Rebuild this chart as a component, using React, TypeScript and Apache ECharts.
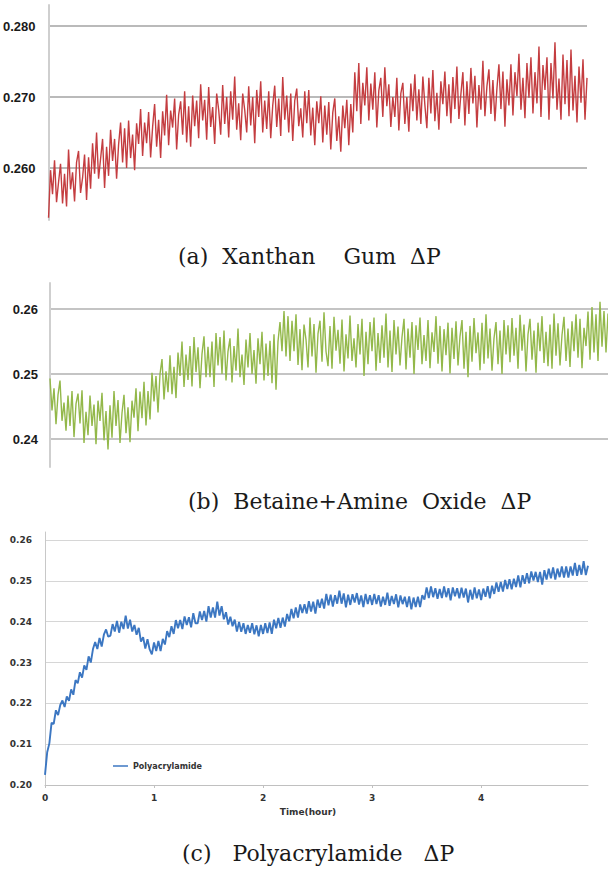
import React, { useEffect, useRef } from "react";
import * as echarts from "echarts";

// (a) Xanthan Gum ΔP – sampled trace, left to right
const xanthanDP = [
  0.2530, 0.2597, 0.2563, 0.2611, 0.2552, 0.2580, 0.2606, 0.2550, 0.2592, 0.2546,
  0.2626, 0.2570, 0.2594, 0.2553, 0.2608, 0.2624, 0.2565, 0.2586, 0.2619, 0.2555,
  0.2615, 0.2571, 0.2635, 0.2592, 0.2650, 0.2585, 0.2613, 0.2641, 0.2572, 0.2630,
  0.2589, 0.2654, 0.2610, 0.2641, 0.2585, 0.2633, 0.2664, 0.2608, 0.2656, 0.2600,
  0.2667, 0.2614, 0.2647, 0.2597, 0.2663, 0.2634, 0.2683, 0.2617, 0.2664, 0.2635,
  0.2679, 0.2615, 0.2658, 0.2690, 0.2630, 0.2668, 0.2614, 0.2680, 0.2646, 0.2703,
  0.2632, 0.2681, 0.2657, 0.2698, 0.2626, 0.2675, 0.2694, 0.2647, 0.2708, 0.2636,
  0.2687, 0.2630, 0.2702, 0.2659, 0.2695, 0.2642, 0.2718, 0.2667, 0.2696, 0.2640,
  0.2714, 0.2658, 0.2686, 0.2634, 0.2705, 0.2682, 0.2647, 0.2717, 0.2662, 0.2700,
  0.2643, 0.2708, 0.2668, 0.2729, 0.2654, 0.2691, 0.2639, 0.2705, 0.2682, 0.2650,
  0.2715, 0.2660, 0.2700, 0.2635, 0.2710, 0.2672, 0.2722, 0.2650, 0.2695, 0.2655,
  0.2708, 0.2642, 0.2688, 0.2716, 0.2658, 0.2698, 0.2645, 0.2728, 0.2668, 0.2702,
  0.2650, 0.2705, 0.2638, 0.2695, 0.2712, 0.2659, 0.2684, 0.2643, 0.2708, 0.2663,
  0.2710, 0.2646, 0.2685, 0.2632, 0.2694, 0.2663, 0.2701, 0.2636, 0.2688, 0.2647,
  0.2693, 0.2626, 0.2678, 0.2698, 0.2638, 0.2673, 0.2623, 0.2688, 0.2656, 0.2696,
  0.2632, 0.2690, 0.2650, 0.2735, 0.2680, 0.2748, 0.2662, 0.2720, 0.2688, 0.2742,
  0.2667, 0.2719, 0.2682, 0.2735, 0.2657, 0.2709, 0.2727, 0.2672, 0.2742, 0.2687,
  0.2718, 0.2658, 0.2700, 0.2672, 0.2727, 0.2653, 0.2705, 0.2720, 0.2662, 0.2700,
  0.2651, 0.2719, 0.2680, 0.2732, 0.2667, 0.2711, 0.2662, 0.2729, 0.2689, 0.2656,
  0.2727, 0.2677, 0.2738, 0.2666, 0.2706, 0.2654, 0.2722, 0.2690, 0.2736, 0.2673,
  0.2718, 0.2663, 0.2728, 0.2683, 0.2743, 0.2669, 0.2704, 0.2735, 0.2660, 0.2722,
  0.2676, 0.2741, 0.2691, 0.2730, 0.2657, 0.2717, 0.2682, 0.2751, 0.2673, 0.2715,
  0.2739, 0.2676, 0.2724, 0.2666, 0.2712, 0.2746, 0.2683, 0.2736, 0.2658, 0.2725,
  0.2688, 0.2746, 0.2674, 0.2735, 0.2701, 0.2761, 0.2682, 0.2727, 0.2670, 0.2748,
  0.2699, 0.2756, 0.2677, 0.2735, 0.2691, 0.2771, 0.2672, 0.2745, 0.2710, 0.2756,
  0.2668, 0.2748, 0.2698, 0.2777, 0.2682, 0.2726, 0.2668, 0.2760, 0.2690, 0.2752,
  0.2673, 0.2767, 0.2681, 0.2730, 0.2664, 0.2743, 0.2692, 0.2753, 0.2668, 0.2727,
];

// (b) Betaine+Amine Oxide ΔP – sampled trace, left to right
const betaineDP = [
  0.2493, 0.2444, 0.2478, 0.2423, 0.2468, 0.2490, 0.2428, 0.2456, 0.2413, 0.2467,
  0.2420, 0.2474, 0.2403, 0.2454, 0.2470, 0.2424, 0.2475, 0.2394, 0.2442, 0.2406,
  0.2467, 0.2420, 0.2453, 0.2392, 0.2459, 0.2428, 0.2471, 0.2398, 0.2443, 0.2384,
  0.2452, 0.2402, 0.2474, 0.2420, 0.2460, 0.2394, 0.2440, 0.2468, 0.2409, 0.2449,
  0.2395, 0.2459, 0.2433, 0.2478, 0.2412, 0.2473, 0.2432, 0.2488, 0.2421, 0.2474,
  0.2430, 0.2502, 0.2458, 0.2497, 0.2441, 0.2500, 0.2523, 0.2461, 0.2504, 0.2472,
  0.2529, 0.2469, 0.2511, 0.2463, 0.2533, 0.2497, 0.2550, 0.2480, 0.2530, 0.2491,
  0.2543, 0.2481, 0.2557, 0.2503, 0.2541, 0.2478, 0.2531, 0.2558, 0.2495, 0.2542,
  0.2495, 0.2550, 0.2480, 0.2563, 0.2513, 0.2557, 0.2500, 0.2567, 0.2490, 0.2535,
  0.2555, 0.2487, 0.2543, 0.2505, 0.2570, 0.2495, 0.2530, 0.2483, 0.2553, 0.2510,
  0.2563, 0.2500, 0.2537, 0.2485, 0.2555, 0.2515, 0.2565, 0.2490, 0.2547, 0.2497,
  0.2551, 0.2486, 0.2561, 0.2476, 0.2550, 0.2580, 0.2535, 0.2597, 0.2527, 0.2589,
  0.2520, 0.2582, 0.2535, 0.2592, 0.2514, 0.2569, 0.2506, 0.2576, 0.2553, 0.2510,
  0.2587, 0.2527, 0.2577, 0.2502, 0.2562, 0.2582, 0.2519, 0.2595, 0.2535, 0.2512,
  0.2574, 0.2508, 0.2588, 0.2536, 0.2568, 0.2516, 0.2584, 0.2504, 0.2561, 0.2524,
  0.2590, 0.2520, 0.2555, 0.2510, 0.2577, 0.2530, 0.2585, 0.2497, 0.2565, 0.2515,
  0.2580, 0.2535, 0.2587, 0.2505, 0.2563, 0.2517, 0.2575, 0.2525, 0.2593, 0.2510,
  0.2567, 0.2503, 0.2583, 0.2530, 0.2573, 0.2513, 0.2557, 0.2585, 0.2507, 0.2570,
  0.2525, 0.2580, 0.2500, 0.2575, 0.2537, 0.2587, 0.2515, 0.2560, 0.2520, 0.2583,
  0.2509, 0.2564, 0.2534, 0.2589, 0.2516, 0.2574, 0.2504, 0.2569, 0.2529, 0.2579,
  0.2501, 0.2571, 0.2523, 0.2581, 0.2513, 0.2558, 0.2583, 0.2508, 0.2565, 0.2495,
  0.2574, 0.2519, 0.2586, 0.2532, 0.2564, 0.2506, 0.2579, 0.2516, 0.2592, 0.2524,
  0.2570, 0.2505, 0.2555, 0.2580, 0.2515, 0.2567, 0.2500, 0.2583, 0.2530, 0.2575,
  0.2518, 0.2586, 0.2528, 0.2571, 0.2508, 0.2591, 0.2536, 0.2576, 0.2504, 0.2561,
  0.2585, 0.2522, 0.2567, 0.2502, 0.2579, 0.2535, 0.2589, 0.2517, 0.2565, 0.2512,
  0.2576, 0.2508, 0.2593, 0.2528, 0.2578, 0.2513, 0.2560, 0.2588, 0.2520, 0.2570,
  0.2511, 0.2581, 0.2535, 0.2592, 0.2525, 0.2585, 0.2509, 0.2571, 0.2543, 0.2596,
  0.2522, 0.2603, 0.2533, 0.2592, 0.2520, 0.2611, 0.2542, 0.2597, 0.2533, 0.2593,
];

// (c) Polyacrylamide ΔP – sampled trace over 0 … 4.98 h
const polyEndHour = 4.98;
const polyacrylamideDP = [
  0.2025, 0.2080, 0.2102, 0.2152, 0.2150, 0.2183, 0.2171, 0.2196, 0.2207, 0.2191,
  0.2217, 0.2206, 0.2234, 0.2221, 0.2257, 0.2249, 0.2276, 0.2263, 0.2293, 0.2282,
  0.2315, 0.2300, 0.2333, 0.2350, 0.2333, 0.2360, 0.2339, 0.2368, 0.2381, 0.2363,
  0.2366, 0.2394, 0.2376, 0.2402, 0.2373, 0.2400, 0.2382, 0.2415, 0.2383, 0.2405,
  0.2376, 0.2392, 0.2368, 0.2385, 0.2351, 0.2362, 0.2334, 0.2357, 0.2332, 0.2320,
  0.2349, 0.2328, 0.2353, 0.2328, 0.2358, 0.2344, 0.2377, 0.2362, 0.2389, 0.2370,
  0.2404, 0.2384, 0.2404, 0.2382, 0.2413, 0.2392, 0.2411, 0.2386, 0.2421, 0.2396,
  0.2396, 0.2425, 0.2404, 0.2426, 0.2400, 0.2438, 0.2410, 0.2435, 0.2410, 0.2449,
  0.2415, 0.2438, 0.2406, 0.2423, 0.2393, 0.2412, 0.2389, 0.2405, 0.2376, 0.2399,
  0.2375, 0.2396, 0.2370, 0.2392, 0.2373, 0.2396, 0.2369, 0.2391, 0.2364, 0.2392,
  0.2370, 0.2396, 0.2372, 0.2398, 0.2370, 0.2405, 0.2384, 0.2409, 0.2385, 0.2410,
  0.2388, 0.2419, 0.2401, 0.2431, 0.2408, 0.2435, 0.2410, 0.2442, 0.2421, 0.2443,
  0.2420, 0.2450, 0.2425, 0.2449, 0.2420, 0.2454, 0.2434, 0.2456, 0.2432, 0.2468,
  0.2440, 0.2466, 0.2437, 0.2465, 0.2444, 0.2476, 0.2444, 0.2469, 0.2435, 0.2466,
  0.2441, 0.2467, 0.2447, 0.2470, 0.2442, 0.2464, 0.2436, 0.2468, 0.2443, 0.2465,
  0.2441, 0.2468, 0.2443, 0.2465, 0.2437, 0.2461, 0.2441, 0.2471, 0.2439, 0.2463,
  0.2443, 0.2467, 0.2435, 0.2464, 0.2443, 0.2461, 0.2436, 0.2462, 0.2430, 0.2459,
  0.2436, 0.2461, 0.2436, 0.2465, 0.2454, 0.2484, 0.2458, 0.2486, 0.2460, 0.2482,
  0.2456, 0.2480, 0.2458, 0.2486, 0.2460, 0.2482, 0.2452, 0.2484, 0.2462, 0.2482,
  0.2457, 0.2483, 0.2459, 0.2481, 0.2447, 0.2478, 0.2454, 0.2484, 0.2457, 0.2479,
  0.2453, 0.2481, 0.2461, 0.2487, 0.2457, 0.2488, 0.2468, 0.2496, 0.2473, 0.2497,
  0.2474, 0.2502, 0.2480, 0.2504, 0.2479, 0.2505, 0.2485, 0.2513, 0.2484, 0.2514,
  0.2493, 0.2519, 0.2494, 0.2523, 0.2501, 0.2522, 0.2497, 0.2522, 0.2491, 0.2526,
  0.2503, 0.2530, 0.2506, 0.2533, 0.2503, 0.2530, 0.2509, 0.2535, 0.2508, 0.2535,
  0.2508, 0.2535, 0.2513, 0.2544, 0.2512, 0.2539, 0.2515, 0.2548, 0.2514, 0.2537,
];

const xanthanTicks = [0.26, 0.27, 0.28];
const betaineTicks = [0.24, 0.25, 0.26];
const polyTicks = [0.2, 0.21, 0.22, 0.23, 0.24, 0.25, 0.26];
const hourTicks = [0, 1, 2, 3, 4];

const captions = [
  "(a)  Xanthan    Gum  ΔP",
  "(b)  Betaine+Amine  Oxide  ΔP",
  "(c)   Polyacrylamide   ΔP",
];

export default function App() {
  const ref = useRef<HTMLDivElement>(null);

  useEffect(() => {
    if (!ref.current) return;
    const chart = echarts.init(ref.current, null, { renderer: "svg" });

    const xanthanIdx = xanthanDP.map((_, i) => String(i));
    const betaineIdx = betaineDP.map((_, i) => String(i));
    const polyStep = polyEndHour / (polyacrylamideDP.length - 1);
    const polyData = polyacrylamideDP.map((v, i) => [i * polyStep, v]);

    const bigBold = {
      fontFamily: "'Liberation Sans', Arial, sans-serif",
      fontWeight: "bold" as const,
      fontSize: 13,
      color: "#1a1a1a",
    };
    const smallBold = {
      fontFamily: "'DejaVu Sans', sans-serif",
      fontWeight: "bold" as const,
      fontSize: 9,
      color: "#333",
    };
    const captionFont = "22px 'DejaVu Serif', serif";

    chart.setOption({
      animation: false,
      backgroundColor: "#fff",
      grid: [
        { left: 48, top: 5, width: 539, height: 215 },
        { left: 50, top: 283, width: 558, height: 184 },
        { left: 45, top: 532, width: 543, height: 253 },
      ],
      legend: {
        data: [{ name: "Polyacrylamide", icon: "rect" }],
        left: 113,
        top: 762,
        padding: 0,
        itemWidth: 15,
        itemHeight: 1.5,
        textStyle: { ...smallBold, fontSize: 8 },
      },
      xAxis: [
        {
          gridIndex: 0,
          type: "category",
          data: xanthanIdx,
          boundaryGap: false,
          show: false,
        },
        {
          gridIndex: 1,
          type: "category",
          data: betaineIdx,
          boundaryGap: false,
          show: false,
        },
        {
          gridIndex: 2,
          type: "value",
          min: 0,
          max: polyEndHour,
          axisLine: { show: true, lineStyle: { color: "#c0c0c0", width: 1 } },
          axisTick: {
            show: true,
            customValues: hourTicks,
            length: 3,
            lineStyle: { color: "#c0c0c0" },
          },
          axisLabel: { ...smallBold, customValues: hourTicks, margin: 8 },
          splitLine: { show: false },
          name: "Time(hour)",
          nameLocation: "middle",
          nameGap: 22,
          nameTextStyle: { ...smallBold, padding: [0, 17, 0, 0] },
        },
      ],
      yAxis: [
        {
          gridIndex: 0,
          type: "value",
          min: 0.25268,
          max: 0.28296,
          axisLine: { show: true, lineStyle: { color: "#cfcfcf", width: 2 } },
          axisTick: { show: false, customValues: xanthanTicks },
          axisLabel: {
            ...bigBold,
            customValues: xanthanTicks,
            margin: 13,
            formatter: (v: number) => v.toFixed(3),
          },
          splitLine: { show: true, lineStyle: { color: "#a3a3a3", width: 1.5 } },
        },
        {
          gridIndex: 1,
          type: "value",
          min: 0.2357,
          max: 0.264,
          axisLine: { show: true, lineStyle: { color: "#cfcfcf", width: 2 } },
          axisTick: { show: false, customValues: betaineTicks },
          axisLabel: {
            ...bigBold,
            customValues: betaineTicks,
            margin: 12,
            formatter: (v: number) => v.toFixed(2),
          },
          splitLine: { show: true, lineStyle: { color: "#b0b0b0", width: 1.5 } },
        },
        {
          gridIndex: 2,
          type: "value",
          min: 0.2,
          max: 0.26196,
          axisLine: { show: true, lineStyle: { color: "#c8c8c8", width: 1 } },
          axisTick: { show: false, customValues: polyTicks },
          axisLabel: {
            ...smallBold,
            customValues: polyTicks,
            margin: 13,
            formatter: (v: number) => v.toFixed(2),
          },
          splitLine: { show: true, lineStyle: { color: "#d6d6d6", width: 1 } },
        },
      ],
      series: [
        {
          name: "Xanthan Gum",
          type: "line",
          xAxisIndex: 0,
          yAxisIndex: 0,
          data: xanthanDP,
          symbol: "none",
          silent: true,
          lineStyle: { color: "#c43d40", width: 1.4 },
          itemStyle: { color: "#c43d40" },
        },
        {
          name: "Betaine+Amine Oxide",
          type: "line",
          xAxisIndex: 1,
          yAxisIndex: 1,
          data: betaineDP,
          symbol: "none",
          silent: true,
          lineStyle: { color: "#93b84a", width: 1.4 },
          itemStyle: { color: "#93b84a" },
        },
        {
          name: "Polyacrylamide",
          type: "line",
          xAxisIndex: 2,
          yAxisIndex: 2,
          data: polyData,
          symbol: "none",
          silent: true,
          lineStyle: { color: "#3c77c2", width: 1.9 },
          itemStyle: { color: "#3c77c2" },
        },
      ],
      graphic: [
        {
          type: "text",
          left: 178,
          top: 245,
          style: { text: captions[0], font: captionFont, fill: "#1a1a1a" },
        },
        {
          type: "text",
          left: 188,
          top: 490,
          style: { text: captions[1], font: captionFont, fill: "#1a1a1a" },
        },
        {
          type: "text",
          left: 182,
          top: 842,
          style: { text: captions[2], font: captionFont, fill: "#1a1a1a" },
        },
      ],
    });

    return () => chart.dispose();
  }, []);

  return (
    <div
      ref={ref}
      style={{ position: "absolute", left: 0, top: 0, width: 608, height: 871 }}
    />
  );
}
